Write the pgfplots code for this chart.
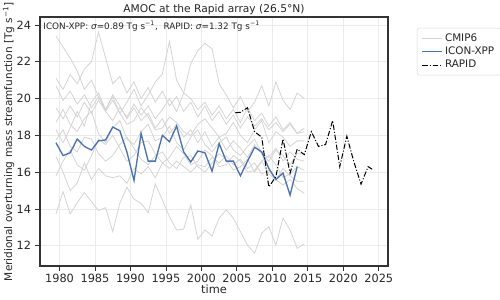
\documentclass[border=0pt]{standalone}
\usepackage{fontspec}
\setmainfont{DejaVu Sans}
\usepackage{pgfplots}
\usepackage{pgfplotstable}
\pgfplotsset{compat=1.18}
\definecolor{iconblue}{HTML}{4C72B0}
\definecolor{cmipgray}{HTML}{D4D4D4}
\definecolor{gridgray}{HTML}{EBEBEB}
\definecolor{txt}{HTML}{262626}

\pgfplotstableread{
year A B C D E F G H I J
1979.5 23.4 21.1 20.7 19.5 18.7 18.3 17.75 16.85 15.8 13.73
1980.5 22.8 20.5 19.9 18.9 19.4 17.6 18.3 16.0 16.6 14.94
1981.5 22.2 21.3 20.4 19.6 18.6 18.4 17.4 15.0 17.2 13.73
1982.5 21.5 20.8 19.7 19.0 18.2 19.3 17.1 15.4 16.4 14.34
1983.5 20.5 21.6 20.2 19.8 18.9 18.5 17.9 16.5 16.1 14.89
1984.5 21.0 22.0 19.5 19.2 19.3 19.8 17.8 15.6 16.9 14.4
1985.5 20.1 23.6 20.1 19.9 18.1 20.3 17.0 16.2 17.8 13.91
1986.5 19.4 22.2 19.3 19.3 17.6 19.4 16.6 15.8 17.5 14.07
1987.5 20.2 20.8 19.9 18.8 18.4 20.1 16.9 15.7 18.0 12.77
1988.5 19.6 21.2 19.2 19.5 18.8 19.2 17.5 15.8 17.3 14.31
1989.5 18.9 20.3 19.8 19.0 17.8 18.6 17.9 15.4 16.6 15.18
1990.5 19.5 20.9 20.5 19.7 17.5 18.8 17.3 16.2 16.9 14.53
1991.5 18.8 20.0 19.6 19.1 18.2 19.5 16.7 15.9 17.6 14.31
1992.5 19.2 20.6 20.2 19.6 18.6 19.0 16.4 16.3 17.7 13.8
1993.5 18.4 19.8 20.9 18.9 17.7 18.3 16.9 15.7 17.0 15.36
1994.5 18.9 20.4 21.35 19.4 17.9 18.4 17.1 16.5 16.5 14.49
1995.5 18.1 19.6 23.1 20.0 18.5 19.0 16.5 16.2 16.8 13.58
1996.5 18.6 20.1 21.0 19.3 17.6 18.7 16.2 16.6 17.4 12.86
1997.5 17.9 19.3 20.3 20.3 17.2 18.2 16.8 16.3 17.0 12.9
1998.5 18.3 19.8 20.0 21.9 17.9 18.0 16.9 16.0 16.4 14.22
1999.5 17.6 19.0 19.4 22.6 18.3 18.6 16.3 16.4 16.6 12.35
2000.5 18.2 19.6 19.8 23.0 17.5 18.9 16.0 16.3 17.2 12.86
2001.5 17.4 18.8 19.1 22.7 17.1 18.4 16.5 16.8 16.9 12.53
2002.5 17.9 19.3 19.6 20.8 17.6 17.9 17.0 16.5 16.3 13.5
2003.5 17.2 18.6 18.9 20.2 17.9 18.1 16.7 16.9 16.4 13.95
2004.5 17.7 19.1 19.4 19.5 17.2 18.7 16.1 16.4 16.9 13.5
2005.5 17.3 18.4 18.7 20.1 16.9 18.0 16.3 16.7 16.6 12.77
2006.5 16.8 19.0 19.5 19.3 17.4 17.6 16.7 16.2 16.0 12.04
2007.5 17.5 18.5 18.8 19.8 17.8 18.3 16.0 16.5 16.1 11.59
2008.5 17.0 18.9 19.2 20.7 17.0 18.8 16.6 15.9 16.6 12.68
2009.5 16.6 18.3 18.5 19.6 16.8 17.6 16.9 16.1 15.9 13.04
2010.5 17.2 18.7 19.0 20.9 17.3 18.2 16.4 15.6 15.6 12.04
2011.5 16.9 18.2 18.3 19.9 16.6 17.9 15.7 15.3 16.2 13.5
2012.5 16.4 18.6 18.7 19.4 17.1 17.4 15.9 15.6 15.8 12.86
2013.5 17.0 18.1 18.1 20.3 16.7 17.7 16.3 15.1 15.5 11.86
2014.5 17.0 18.2 18.4 20.0 16.6 17.7 16.1 14.85 15.5 12.1
}\cmip

\pgfplotstableread{
year v
1979.5 17.6
1980.5 16.9
1981.5 17.05
1982.5 17.8
1983.5 17.4
1984.5 17.2
1985.5 17.7
1986.5 17.75
1987.5 18.45
1988.5 18.25
1989.5 17.1
1990.5 15.55
1991.5 18.1
1992.5 16.6
1993.5 16.6
1994.5 18.0
1995.5 17.65
1996.5 18.5
1997.5 17.1
1998.5 16.55
1999.5 17.15
2000.5 17.05
2001.5 16.05
2002.5 17.55
2003.5 16.6
2004.5 16.6
2005.5 15.8
2006.5 16.6
2007.5 17.35
2008.5 17.1
2009.5 16.2
2010.5 15.6
2011.5 15.95
2012.5 14.75
2013.5 16.3
}\icon

\pgfplotstableread{
year v
2004.8 19.23
2005.5 19.25
2006.5 19.5
2007.5 18.2
2008.5 17.9
2009.5 15.2
2010.5 15.75
2011.5 17.8
2012.5 15.95
2013.5 17.25
2014.5 16.95
2015.5 18.2
2016.5 17.4
2017.5 17.5
2018.5 18.8
2019.5 16.3
2020.5 17.95
2021.5 16.55
2022.5 15.35
2023.5 16.3
2024.1 16.15
}\rapid

\begin{document}
\begin{tikzpicture}
\useasboundingbox (0,0) rectangle (375pt,225pt);
\begin{axis}[
  at={(30pt,25.5pt)}, anchor=south west,
  scale only axis, width=261pt, height=186.75pt,
  xmin=1977.25, xmax=2026.3, ymin=10.9, ymax=24.43,
  xtick={1980,1985,...,2025}, ytick={12,14,...,24},
  /pgf/number format/1000 sep={},
  /pgf/number format/assume math mode=true,
  grid=major, major grid style={gridgray, line width=0.5pt},
  axis line style={black!80, line width=0.8pt},
  tick align=outside, tick pos=left, major tick length=3.6pt,
  every tick/.style={black!80, line width=0.6pt},
  ticklabel style={font=\fontsize{8.5}{9}\selectfont, text=txt},
  xticklabel style={yshift=1pt},
  yticklabel style={xshift=0.5pt},
  title={AMOC at the Rapid array (26.5°N)},
  title style={font=\fontsize{8}{9}\selectfont, text=txt, anchor=base, yshift=-2.4pt},
  xlabel={time},
  ylabel={Meridional overturning mass streamfunction [Tg s\textsuperscript{−1}]},
  xlabel style={font=\fontsize{8.5}{9}\selectfont, text=txt, yshift=5pt},
  ylabel style={font=\fontsize{7.9}{9}\selectfont, text=txt, yshift=-5pt},
  legend style={at={(1.083,0.956)}, anchor=north west, draw=black!15,
    font=\fontsize{7.8}{9}\selectfont, text=txt, rounded corners=1.5pt,
    inner xsep=3.5pt, inner ysep=2.5pt, row sep=0pt, nodes={inner sep=1.4pt}},
  legend cell align=left,
  legend image code/.code={\draw[#1] (0pt,0pt) -- (15pt,0pt);},
]
\addplot[cmipgray, line width=0.6pt] table[x=year,y=A] {\cmip};
\addlegendentry{CMIP6}
\addplot[cmipgray, line width=0.6pt, forget plot] table[x=year,y=B] {\cmip};
\addplot[cmipgray, line width=0.6pt, forget plot] table[x=year,y=C] {\cmip};
\addplot[cmipgray, line width=0.6pt, forget plot] table[x=year,y=D] {\cmip};
\addplot[cmipgray, line width=0.6pt, forget plot] table[x=year,y=E] {\cmip};
\addplot[cmipgray, line width=0.6pt, forget plot] table[x=year,y=F] {\cmip};
\addplot[cmipgray, line width=0.6pt, forget plot] table[x=year,y=G] {\cmip};
\addplot[cmipgray, line width=0.6pt, forget plot] table[x=year,y=H] {\cmip};
\addplot[cmipgray, line width=0.6pt, forget plot] table[x=year,y=I] {\cmip};
\addplot[cmipgray, line width=0.6pt, forget plot] table[x=year,y=J] {\cmip};
\addplot[iconblue, line width=1pt] table[x=year,y=v] {\icon};
\addlegendentry{ICON-XPP}
\addplot[black, line width=0.75pt, dash pattern=on 4pt off 1.4pt on 0.8pt off 1.4pt] table[x=year,y=v] {\rapid};
\addlegendentry{RAPID}
\node[anchor=north west, font=\fontsize{6.65}{7.5}\selectfont, text=txt, inner sep=0pt]
  at (rel axis cs:0.009,0.985) {ICON-XPP: {\itshape σ}=0.89 Tg s\textsuperscript{−1},\ \ RAPID: {\itshape σ}=1.32 Tg s\textsuperscript{−1}};
\end{axis}
\end{tikzpicture}
\end{document}
